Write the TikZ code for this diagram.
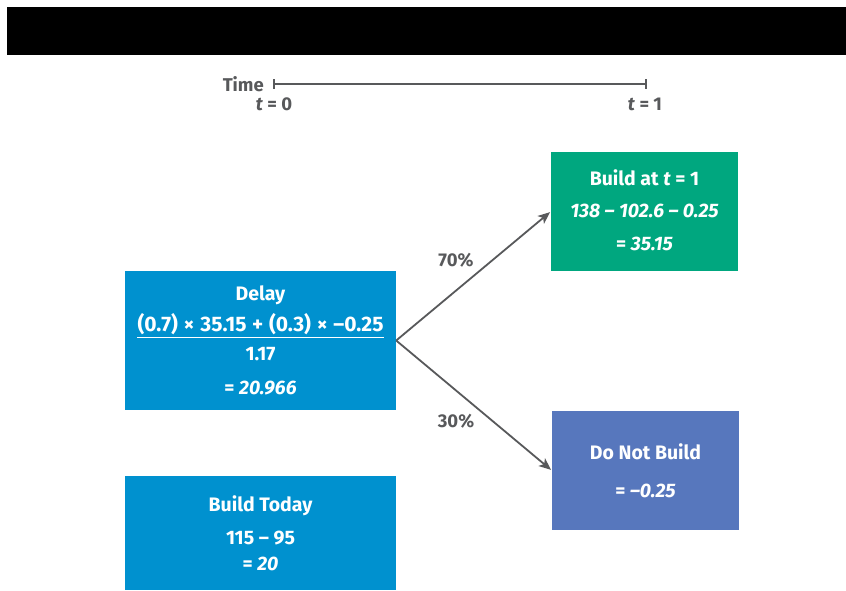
\documentclass[tikz,border=0pt]{standalone}
\usepackage{fontspec}
\setmainfont{Fira Sans}[UprightFont=* Bold, ItalicFont=* Bold Italic, BoldFont=* Bold]
\usetikzlibrary{arrows.meta}
\definecolor{barblack}{HTML}{000000}
\definecolor{delayblue}{HTML}{0091CF}
\definecolor{buildgreen}{HTML}{00A77F}
\definecolor{nobuild}{HTML}{5777BD}
\definecolor{inkgray}{HTML}{58595B}
\tikzset{
  box/.style={draw=none, inner sep=0pt, anchor=center},
  boxtext/.style={text=white, font=\fontsize{19.5}{22}\selectfont, inner sep=0pt, anchor=center},
  graytext/.style={text=inkgray, font=\fontsize{18.5}{20}\selectfont, inner sep=0pt, anchor=center},
  branch/.style={draw=inkgray, line width=1.8pt, -{Stealth[length=12pt, width=10pt, inset=3pt]}, shorten >=1pt},
}
\begin{document}
\begin{tikzpicture}[x=1pt, y=-1pt]
\useasboundingbox (0,0) rectangle (846,590);
% header bar
\fill[barblack] (7,7) rectangle (846,55);

% time line
\node[graytext, anchor=east] (timelbl) at (264,84.5) {Time};
\coordinate (t0) at (274,84);
\coordinate (t1) at (646,84);
\draw[inkgray, line width=1.5pt] (t0) -- (t1);
\draw[inkgray, line width=1.5pt] (274,79) -- (274,89);
\draw[inkgray, line width=1.5pt] (646,79) -- (646,89);
\node[graytext] (tzero) at (274,104) {\textit{t} = 0};
\node[graytext] (tone) at (645,104) {\textit{t} = 1};

% boxes
\node[box, fill=delayblue, minimum width=271pt, minimum height=139pt] (delay) at (260.5,340.5) {};
\node[box, fill=buildgreen, minimum width=187pt, minimum height=119pt] (later) at (644.5,211.5) {};
\node[box, fill=nobuild, minimum width=187pt, minimum height=119pt] (nobuild) at (645.5,470.5) {};
\node[box, fill=delayblue, minimum width=271pt, minimum height=114pt] (today) at (260.5,533) {};

% delay box contents
\node[boxtext] (dl1) at (260.5,295) {Delay};
\node[boxtext, font=\fontsize{21}{23}\selectfont] (dl2) at (260.5,324) {\makebox[246pt][s]{(0.7) × 35.15 + (0.3) × –0.25}};
\draw[white, line width=1.3pt] (137,337.5) -- (384,337.5);
\node[boxtext] (dl3) at (260.5,354) {1.17};
\node[boxtext] (dl4) at (260.5,388) {= \textit{20.966}};

% build later contents
\node[boxtext] (bl1) at (644.5,178) {Build at \textit{t} = 1};
\node[boxtext] (bl2) at (644.5,211) {\textit{138 – 102.6 – 0.25}};
\node[boxtext] (bl3) at (644.5,244) {= \textit{35.15}};

% do not build contents
\node[boxtext] (nb1) at (645.5,452) {Do Not Build};
\node[boxtext] (nb2) at (645.5,491) {= \textit{–0.25}};

% build today contents
\node[boxtext] (bt1) at (260.5,506) {Build Today};
\node[boxtext] (bt2) at (260.5,538) {115 – 95};
\node[boxtext] (bt3) at (260.5,564) {= \textit{20}};

% branches
\draw[branch] (delay.east) -- (later.west);
\draw[branch] (delay.east) -- (nobuild.west);
\node[graytext] (p70) at (456,260) {70\%};
\node[graytext] (p30) at (456,421) {30\%};
\end{tikzpicture}
\end{document}
